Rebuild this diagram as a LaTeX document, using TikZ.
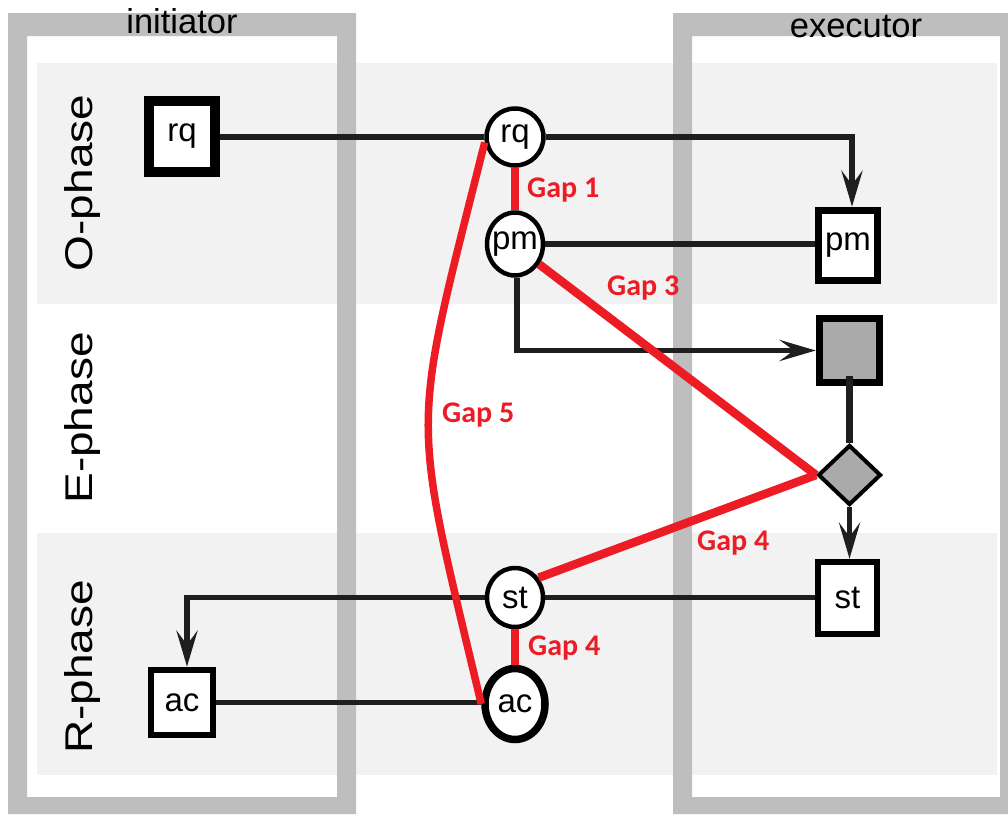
\documentclass[tikz,border=0pt]{standalone}
\usepackage{fontspec}
\setmainfont{Liberation Sans}
\newfontfamily\gapfont{Carlito}
\usetikzlibrary{shapes.geometric,arrows.meta}
\definecolor{bordergray}{HTML}{BEBEBE}
\definecolor{bandgray}{HTML}{F2F2F2}
\definecolor{gapred}{HTML}{ED1C24}
\definecolor{boxgray}{HTML}{AAAAAA}
\definecolor{linedark}{HTML}{1E1E1E}
\begin{document}
\begin{tikzpicture}[x=1pt,y=-1pt,
  circ/.style={ellipse, draw=black, fill=white, line width=4.5pt, inner sep=0pt, font=\fontsize{33}{38}\selectfont},
  sqbox/.style={rectangle, draw=black, fill=white, line width=6.5pt, inner sep=0pt, font=\fontsize{33}{38}\selectfont},
  conn/.style={draw=linedark, line width=5.5pt},
  arr/.style={conn, -{Stealth[length=36pt,width=21pt,inset=14pt]}},
  gap/.style={draw=gapred, line width=8.5pt},
  gaplabel/.style={text=gapred, font=\gapfont\bfseries\fontsize{30}{36}\selectfont, anchor=base west, inner sep=0pt},
  phaselabel/.style={rotate=90, anchor=base, inner sep=0pt, text=black},
  header/.style={anchor=base, inner sep=0pt, font=\fontsize{34.5}{40}\selectfont, text=black}
]
\useasboundingbox (0,0) rectangle (1008,814);
\fill[white] (0,0) rectangle (1008,814);
% phase bands
\fill[bandgray] (37,63) rectangle (997,304);
\fill[bandgray] (37,533) rectangle (997,775);
% swimlane borders
\fill[bordergray, even odd rule] (8,13) rectangle (356,814) (27,36) rectangle (337,797);
\fill[bordergray, even odd rule] (673,13) rectangle (1008,814) (692,36) rectangle (1000,797);
% headers
\node[header] (hinit) at (182,33) {initiator};
\node[header] (hexec) at (856,37) {executor};
% phase labels
\node[phaselabel] (po) at (92,183) {\scalebox{1}[0.84]{\fontsize{46}{50}\selectfont O-phase}};
\node[phaselabel] (pe) at (92,418) {\scalebox{1}[0.84]{\fontsize{46}{50}\selectfont E-phase}};
\node[phaselabel] (pr) at (92,667) {\scalebox{1}[0.84]{\fontsize{46}{50}\selectfont R-phase}};
% nodes
\node[sqbox, line width=10pt, minimum width=66pt, minimum height=71pt] (irq) at (182,136) {rq};
\node[circ, minimum width=57pt, minimum height=57pt] (crq) at (515,137) {\makebox[0pt]{rq}};
\node[circ, minimum width=56pt, minimum height=63pt] (cpm) at (515,244) {\makebox[0pt]{pm}};
\node[sqbox, line width=7.5pt, minimum width=59pt, minimum height=70pt] (epm) at (848,245.5) {pm};
\node[sqbox, line width=7.5pt, fill=boxgray, minimum width=60pt, minimum height=64pt] (eg) at (849.5,350.5) {};
\node[diamond, draw=black, fill=boxgray, line width=4pt, inner sep=0pt, minimum width=63pt, minimum height=60pt] (ed) at (849.5,475) {};
\node[sqbox, minimum width=59pt, minimum height=72pt] (est) at (847.5,598) {st};
\node[circ, minimum width=56pt, minimum height=59pt] (cst) at (515,597.5) {\makebox[0pt]{st}};
\node[circ, line width=7.5pt, minimum width=60pt, minimum height=71pt] (cac) at (515,704) {\makebox[0pt]{ac}};
\node[sqbox, minimum width=62pt, minimum height=65pt] (iac) at (182,702.5) {ac};
\coordinate (k1) at (852,137);
\coordinate (k2) at (187,599);
% connectors
\draw[conn] (irq.east |- crq.west) -- (crq.west);
\draw[arr] (crq.east) -- (k1) -- (k1 |- epm.north);
\draw[conn] (cpm.east) -- (cpm.east -| epm.west);
\draw[arr] ([xshift=2pt]cpm.south) |- (eg.west);
\draw[draw=linedark, line width=7.5pt] ([yshift=10pt]eg.south) -- (ed.north);
\draw[arr] (ed.south) -- (ed.south |- est.north);
\draw[conn] (cst.east) -- (cst.east -| est.west);
\draw[arr] (cst.west) -- (cst.west -| k2) -- (k2 |- iac.north);
\draw[conn] (iac.east) -- (iac.east -| cac.west);
% gaps
\draw[gap] (crq.south) -- (cpm.north);
\draw[gap] (cpm.-40) -- (ed.west);
\draw[gap] (cst.40) -- (ed.west);
\draw[gap] (cst.south) -- (cac.north);
\draw[gap, line width=7.5pt] (crq.190) .. controls (410,440) and (410,405) .. (cac.west);
% gap labels
\node[gaplabel] (g1) at (527,197) {Gap 1};
\node[gaplabel] (g3) at (607,295) {Gap 3};
\node[gaplabel] (g5) at (442,422) {Gap 5};
\node[gaplabel] (g4a) at (697,550) {Gap 4};
\node[gaplabel] (g4b) at (528,655) {Gap 4};
\end{tikzpicture}
\end{document}
